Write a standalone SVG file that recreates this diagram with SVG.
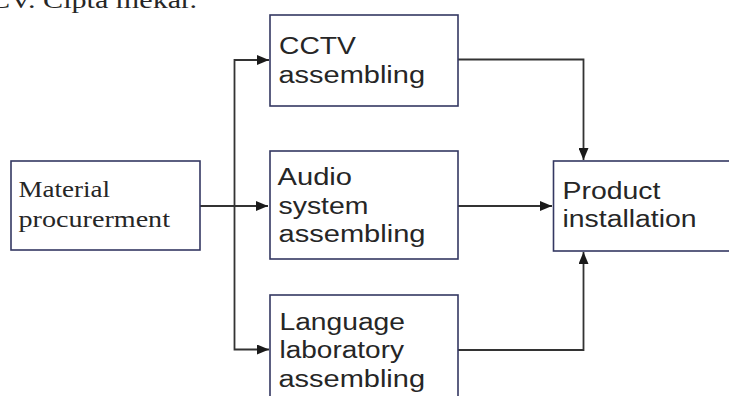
<svg xmlns="http://www.w3.org/2000/svg" width="729" height="396" viewBox="0 0 729 396">
  <style>
    .box { fill: #ffffff; stroke: #343862; stroke-width: 1.6; }
    .sans { font-family: "Liberation Sans", Arial, sans-serif; font-size: 23.5px; fill: #262626; }
    .serif { font-family: "Liberation Serif", "Times New Roman", serif; font-size: 24px; fill: #262626; }
    .conn { fill: none; stroke: #333333; stroke-width: 1.8; }
  </style>
  <defs>
    <marker id="arrow" viewBox="0 0 12 10" refX="12" refY="5" markerWidth="12" markerHeight="10" markerUnits="userSpaceOnUse" orient="auto">
      <path d="M0,0 L12,5 L0,10 Z" fill="#1a1a1a"/>
    </marker>
  </defs>
  <rect width="729" height="396" fill="#ffffff"/>

  <!-- heading line, clipped at the top edge -->
  <text class="serif" x="-10" y="8" textLength="207" lengthAdjust="spacingAndGlyphs">CV. Cipta mekar.</text>

  <g id="connectors">
    <!-- material to the three assembly branches -->
    <path class="conn" d="M200,206 L268,206" marker-end="url(#arrow)"/>
    <path class="conn" d="M234.5,206 L234.5,60 L269,60" marker-end="url(#arrow)"/>
    <path class="conn" d="M234.5,206 L234.5,349.5 L269,349.5" marker-end="url(#arrow)"/>
    <!-- assembly branches to installation -->
    <path class="conn" d="M458,59.5 L583.5,59.5 L583.5,160" marker-end="url(#arrow)"/>
    <path class="conn" d="M458,206 L552,206" marker-end="url(#arrow)"/>
    <path class="conn" d="M458,350 L583.5,350 L583.5,252" marker-end="url(#arrow)"/>
  </g>

  <g id="material">
    <rect class="box" x="11" y="161" width="189" height="89"/>
    <text class="serif" x="18.5" y="197" textLength="91.5" lengthAdjust="spacingAndGlyphs">Material</text>
    <text class="serif" x="18.5" y="227" textLength="151.5" lengthAdjust="spacingAndGlyphs">procurerment</text>
  </g>

  <g id="cctv">
    <rect class="box" x="270" y="15" width="188" height="91"/>
    <text class="sans" x="279" y="54" textLength="77" lengthAdjust="spacingAndGlyphs">CCTV</text>
    <text class="sans" x="278.5" y="82.5" textLength="146.5" lengthAdjust="spacingAndGlyphs">assembling</text>
  </g>

  <g id="audio">
    <rect class="box" x="270" y="151" width="188" height="108"/>
    <text class="sans" x="277.5" y="185" textLength="74.5" lengthAdjust="spacingAndGlyphs">Audio</text>
    <text class="sans" x="278.5" y="213.5" textLength="90" lengthAdjust="spacingAndGlyphs">system</text>
    <text class="sans" x="278.5" y="241.8" textLength="147" lengthAdjust="spacingAndGlyphs">assembling</text>
  </g>

  <g id="language">
    <rect class="box" x="270" y="295" width="188" height="120"/>
    <text class="sans" x="279.5" y="330" textLength="125.5" lengthAdjust="spacingAndGlyphs">Language</text>
    <text class="sans" x="279.5" y="358.3" textLength="124.5" lengthAdjust="spacingAndGlyphs">laboratory</text>
    <text class="sans" x="278.5" y="386.5" textLength="146.5" lengthAdjust="spacingAndGlyphs">assembling</text>
  </g>

  <g id="installation">
    <rect class="box" x="553.5" y="161" width="190" height="90"/>
    <text class="sans" x="562.5" y="199" textLength="98" lengthAdjust="spacingAndGlyphs">Product</text>
    <text class="sans" x="562.5" y="227" textLength="134" lengthAdjust="spacingAndGlyphs">installation</text>
  </g>
</svg>
